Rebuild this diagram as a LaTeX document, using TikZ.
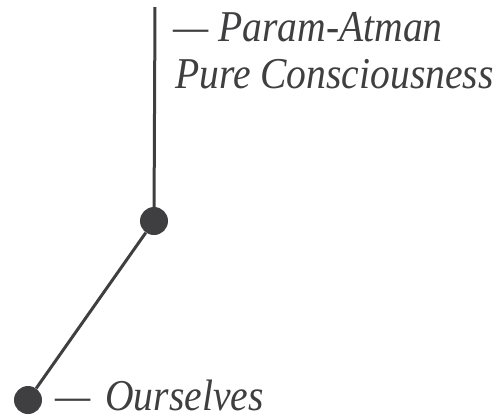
\documentclass[tikz,border=0pt]{standalone}
\usepackage{fontspec}
\setmainfont{Liberation Serif}[FakeStretch=0.9]
\usepackage{tikz}
\usetikzlibrary{positioning}
\definecolor{ink}{HTML}{3F3F41}
\tikzset{
  dot/.style  ={circle, fill=ink, minimum size=28pt, inner sep=0pt},
  lbl/.style  ={anchor=base west, inner sep=0pt, text=ink, font=\fontsize{44}{48}\selectfont\itshape},
  link/.style ={draw=ink, line width=3pt},
}
\begin{document}
\begin{tikzpicture}[x=1pt,y=-1pt]
  \useasboundingbox (0,0) rectangle (496,416);
  % the two levels and the stem above
  \coordinate (top) at (155,7);
  \node[dot] (self) at (154,221) {};
  \node[dot] (us) at (28,400) {};
  \draw[link] (top) -- (self);
  \draw[link] (self) -- (us);
  % labels
  \node[lbl] (param) at (173,41) {— Param-Atman};
  \node[lbl] (pure) at (175,88) {Pure Consciousness};
  \node[lbl] (ours) at (55,410) {—\hspace{15pt}Ourselves};
\end{tikzpicture}
\end{document}
